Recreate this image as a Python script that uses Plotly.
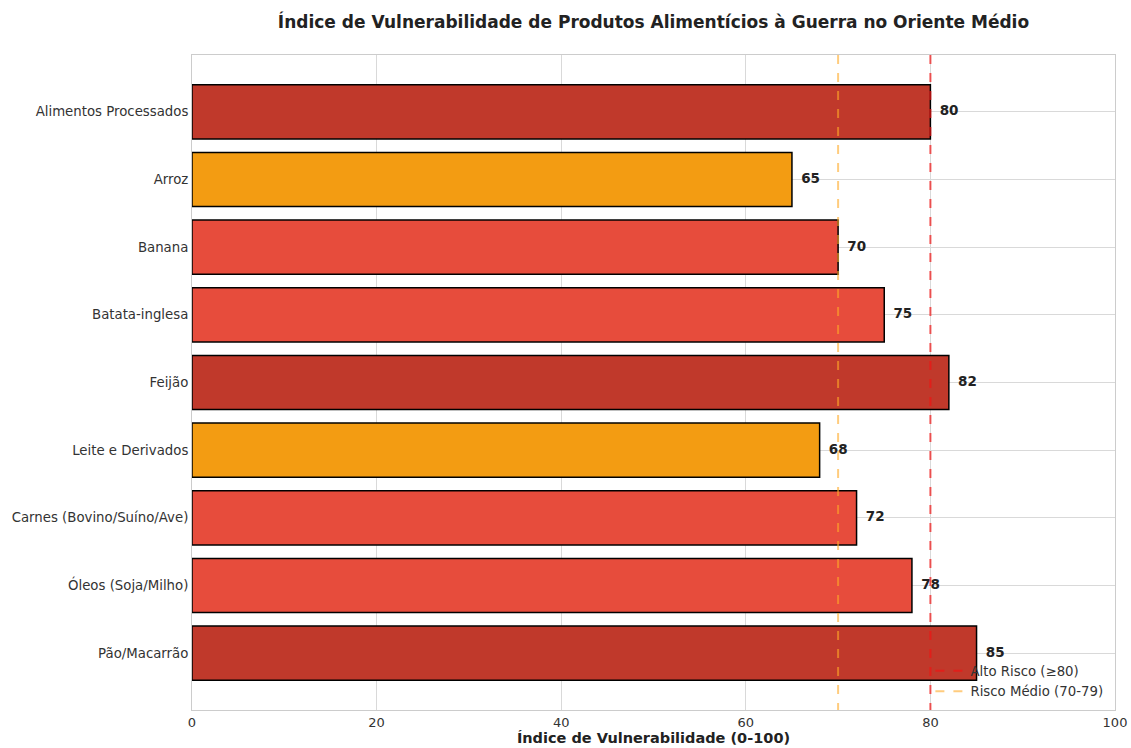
import plotly.graph_objects as go

# Food items (top to bottom) and their vulnerability index
produtos = [
    "Alimentos Processados",
    "Arroz",
    "Banana",
    "Batata-inglesa",
    "Feijão",
    "Leite e Derivados",
    "Carnes (Bovino/Suíno/Ave)",
    "Óleos (Soja/Milho)",
    "Pão/Macarrão",
]
indice = [80, 65, 70, 75, 82, 68, 72, 78, 85]
x_ticks = [0, 20, 40, 60, 80, 100]

ALTO = "#c0392b"
MEDIO = "#e74c3c"
BAIXO = "#f39c12"


def cor(v):
    if v >= 80:
        return ALTO
    if v >= 70:
        return MEDIO
    return BAIXO


posicoes = list(range(len(produtos)))
y_lo, y_hi = -0.84, len(produtos) - 1 + 0.84

fig = go.Figure()

fig.add_trace(go.Bar(
    x=indice,
    y=posicoes,
    orientation="h",
    width=0.8,
    marker=dict(color=[cor(v) for v in indice],
                line=dict(color="black", width=1.5)),
    showlegend=False,
    hoverinfo="x+y",
))

# value labels beside each bar
fig.add_trace(go.Scatter(
    x=[v + 1 for v in indice],
    y=posicoes,
    mode="text",
    text=[f"<b>{v}</b>" for v in indice],
    textposition="middle right",
    textfont=dict(family="DejaVu Sans", size=13.5, color="#222222"),
    showlegend=False,
    hoverinfo="skip",
))

# risk threshold lines
fig.add_trace(go.Scatter(
    x=[80, 80], y=[y_lo, y_hi],
    mode="lines",
    line=dict(color="rgba(240,20,20,0.7)", width=2, dash="dash"),
    name="Alto Risco (≥80)",
))
fig.add_trace(go.Scatter(
    x=[70, 70], y=[y_lo, y_hi],
    mode="lines",
    line=dict(color="rgba(255,170,40,0.6)", width=2, dash="dash"),
    name="Risco Médio (70-79)",
))

fig.update_layout(
    width=1131,
    height=748,
    margin=dict(l=192, r=16, t=55, b=38),
    paper_bgcolor="white",
    plot_bgcolor="white",
    font=dict(family="DejaVu Sans", size=13, color="#333333"),
    title=dict(
        text="<b>Índice de Vulnerabilidade de Produtos Alimentícios à Guerra no Oriente Médio</b>",
        x=0.5, xref="paper", y=0.9706, yref="container",
        xanchor="center", yanchor="middle",
        font=dict(family="DejaVu Sans", size=17, color="#222222"),
    ),
    xaxis=dict(
        range=[0, 100],
        tickvals=x_ticks,
        ticks="",
        automargin=False,
        showgrid=True, gridcolor="#d9d9d9", gridwidth=1,
        zeroline=False,
        showline=True, linecolor="#cccccc", linewidth=1, mirror=True,
        tickfont=dict(size=13, color="#333333"),
        title=dict(text="<b>Índice de Vulnerabilidade (0-100)</b>",
                   font=dict(size=14.5, color="#222222"), standoff=4),
    ),
    yaxis=dict(
        range=[y_hi, y_lo],
        tickvals=posicoes,
        ticktext=produtos,
        ticks="",
        automargin=False,
        showgrid=True, gridcolor="#d9d9d9", gridwidth=1,
        zeroline=False,
        showline=True, linecolor="#cccccc", linewidth=1, mirror=True,
        tickfont=dict(size=13.3, color="#333333"),
    ),
    legend=dict(
        x=0.80, y=0.005, xanchor="left", yanchor="bottom",
        bgcolor="rgba(255,255,255,0)",
        font=dict(size=13.3, color="#333333"),
        itemwidth=30,
        tracegroupgap=0,
    ),
    bargap=0.2,
)

fig.write_html("out.html")
